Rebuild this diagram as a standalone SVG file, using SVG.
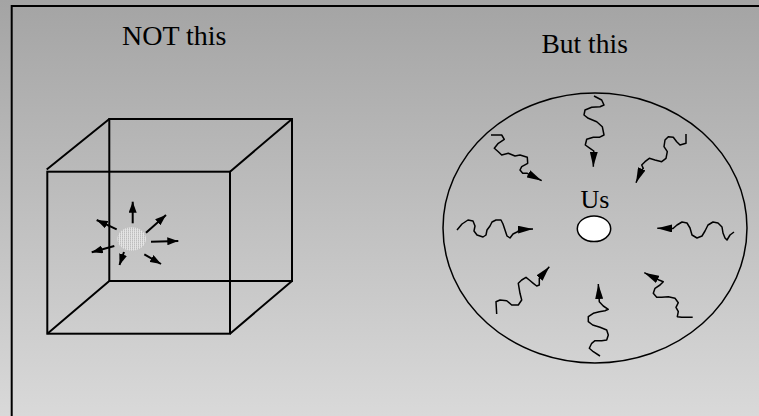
<svg xmlns="http://www.w3.org/2000/svg" width="759" height="416" viewBox="0 0 759 416">
<defs>
<linearGradient id="bg" x1="0" y1="0" x2="0" y2="1">
<stop offset="0" stop-color="#a4a4a4"/>
<stop offset="1" stop-color="#d9d9d9"/>
</linearGradient>
<pattern id="stip" width="2" height="2" patternUnits="userSpaceOnUse">
<rect width="2" height="2" fill="#e4e4e4"/>
<rect width="1" height="1" fill="#bdbdbd"/>
<rect x="0" y="1" width="1" height="1" fill="#cfcfcf"/>
</pattern>
<marker id="ah" viewBox="0 0 11 8" refX="11" refY="4" markerWidth="11" markerHeight="8" markerUnits="userSpaceOnUse" orient="auto">
<path d="M0,0 L11,4 L0,8 z" fill="#000"/>
</marker>
<marker id="sq" viewBox="0 0 15 8" refX="15" refY="4" markerWidth="15" markerHeight="8" markerUnits="userSpaceOnUse" orient="auto">
<path d="M0,0 L15,4 L0,8 z" fill="#000"/>
</marker>
</defs>
<style>
.t{font-family:"Liberation Serif","Times New Roman",serif;fill:#000}
.edge{fill:none;stroke:#000;stroke-width:2}
.arr{fill:none;stroke:#000;stroke-width:2;marker-end:url(#ah)}
.sq{fill:none;stroke:#000;stroke-width:1.5;stroke-linejoin:round;marker-end:url(#sq)}
</style>
<rect x="0" y="0" width="759" height="416" fill="url(#bg)"/>
<path d="M11.7,420 V6 H765" fill="none" stroke="#000" stroke-width="2"/>

<text class="t" x="122" y="45" font-size="28">NOT this</text>
<text class="t" x="541.5" y="53.3" font-size="27.5">But this</text>

<g id="cube">
<rect class="edge" x="109.3" y="119" width="182.7" height="162"/>
<rect class="edge" x="47.3" y="171.7" width="182.7" height="162"/>
<path class="edge" d="M46.7,169.5 L109.3,119 M230,171.7 L292,119 M47.3,333.7 L109.3,281 M230,333.7 L292,281"/>
</g>

<g id="source">
<ellipse cx="131.7" cy="239" rx="14.3" ry="11.7" fill="url(#stip)"/>
<path class="arr" d="M132.7,223.3 L132.7,201.7"/>
<path class="arr" d="M146,232.7 L166,215"/>
<path class="arr" d="M151,241.7 L178.3,241"/>
<path class="arr" d="M144.3,254.3 L161,264"/>
<path class="arr" d="M124,252 L119.5,265"/>
<path class="arr" d="M114.3,246 L91.7,252.3"/>
<path class="arr" d="M116.7,229.3 L96.7,220"/>
</g>

<g id="sphere">
<ellipse cx="595" cy="228" rx="152" ry="135" fill="none" stroke="#000" stroke-width="1.5"/>
</g>

<g id="us">
<text class="t" x="580.5" y="208.3" font-size="26">Us</text>
<ellipse cx="594" cy="228.8" rx="16.7" ry="12.8" fill="#fff" stroke="#000" stroke-width="1.5"/>
</g>

<g id="rays">
<path class="sq" d="M594,96 L601.7,100 L604,105 L600,106.7 L591.7,107.3 L585,110 L584,115 L588.3,118.3 L596.7,121.7 L602.3,126.7 L604,135 L599.3,137.3 L593.3,137.3 L586.7,139.3 L585.3,145 L590,148.3 L593.8,151 L593.3,166.7"/>
<path class="sq" d="M491,135 L501.7,135 L504.3,139.3 L498.3,143.3 L494.3,148.3 L498.3,151.7 L501.7,155 L508.3,153.3 L515,156 L520,155 L527.3,157.3 L527.7,163.3 L521.7,166.7 L520,170 L522.7,173.3 L527.3,173.3 L541.7,180.7"/>
<path class="sq" d="M686,134 L686,143.3 L680,145 L676.7,141.7 L673.3,137.3 L668.3,136.7 L665,140 L664,146.7 L667.3,151.7 L666,158.3 L661.7,161.7 L655,160 L649.3,158.3 L645,161.7 L641.7,165 L643.3,168.3 L641,170.7 L636,182.7"/>
<path class="sq" d="M457,230 L462,224 L468,220 L473,221 L475,226 L474,231 L477,235 L483,237 L486,235 L487,230 L490,226 L492,222 L496,220 L501,220 L503,224 L505,230 L507,236 L510,238 L513,234 L517,232 L521,229.5 L533,229"/>
<path class="sq" d="M734,232 L730,235 L727,240 L725,238 L723,233 L722,227 L718,223 L713,222 L708,225 L705,231 L702,236 L697,238 L692,235 L690,228 L687,223 L682,222 L677,225 L673,228.5 L657.3,228.3"/>
<path class="sq" d="M496.7,314 L496,301.7 L500,300 L506.7,300.7 L511.7,305 L518.3,305 L521.7,300 L520,293.3 L518.3,283.3 L521.7,280 L526,277.3 L529.3,280 L533.3,283.3 L536.7,286 L539.3,285 L539.3,278.3 L549.3,266.7"/>
<path class="sq" d="M600,356 L593.3,351.7 L589.3,348.3 L591.7,343.3 L595,340.7 L601.7,340.7 L606.7,340 L608.3,335 L606.7,330 L600,327.3 L592.7,325 L588.3,321.7 L588.3,316.7 L593.3,313.3 L599.3,311.7 L605,310.7 L608.3,309.3 L603.3,306 L599.3,301.7 L599,296 L598.3,284"/>
<path class="sq" d="M692.7,317.3 L686.7,317.3 L681.7,317.3 L677.3,316.7 L678.3,311.7 L676,307.3 L678.3,302.7 L675,298.3 L668.3,296.7 L661.7,297.3 L656.7,297.3 L653.3,293.3 L655,288.3 L660,285 L663.3,281.7 L659,280 L644.3,272.7"/>
</g>
</svg>
